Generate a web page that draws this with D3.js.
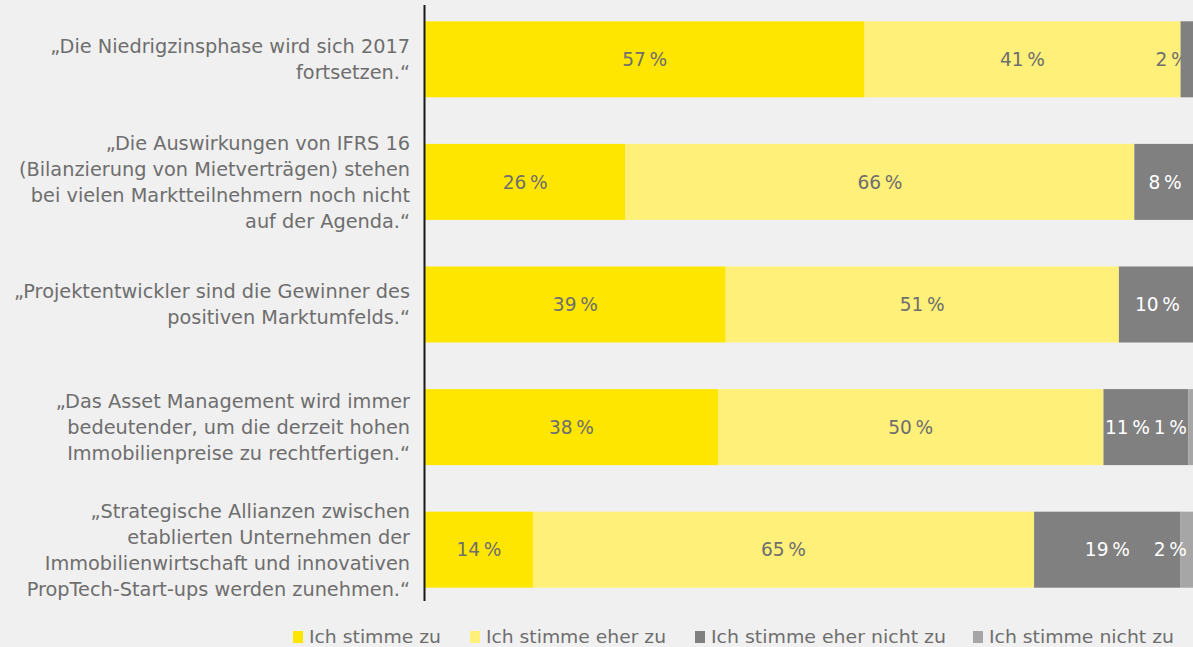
<!DOCTYPE html>
<html>
<head>
<meta charset="utf-8">
<script src="https://cdn.jsdelivr.net/npm/d3@7"></script>
<style>
  html, body { margin: 0; padding: 0; background: #f0f0f0; }
  svg { display: block; font-family: "DejaVu Sans", sans-serif; }
</style>
</head>
<body>
<svg id="chart" width="1193" height="647"></svg>
<script>
const categories = [
  ["„Die Niedrigzinsphase wird sich 2017", "fortsetzen.“"],
  ["„Die Auswirkungen von IFRS 16", "(Bilanzierung von Mietverträgen) stehen", "bei vielen Marktteilnehmern noch nicht", "auf der Agenda.“"],
  ["„Projektentwickler sind die Gewinner des", "positiven Marktumfelds.“"],
  ["„Das Asset Management wird immer", "bedeutender, um die derzeit hohen", "Immobilienpreise zu rechtfertigen.“"],
  ["„Strategische Allianzen zwischen", "etablierten Unternehmen der", "Immobilienwirtschaft und innovativen", "PropTech-Start-ups werden zunehmen.“"]
];
const seriesNames = ["Ich stimme zu", "Ich stimme eher zu", "Ich stimme eher nicht zu", "Ich stimme nicht zu"];
const stimmeZu      = [57, 26, 39, 38, 14];
const eherZu        = [41, 66, 51, 50, 65];
const eherNichtZu   = [2, 8, 10, 11, 19];
const nichtZu       = [0, 0, 0, 1, 2];
const colors = ["#ffe600", "#fff07a", "#808080", "#a6a6a6"];
const labelColors = ["#6e6e6e", "#6e6e6e", "#ffffff", "#ffffff"];
// legend layout (x of swatch, width of text)
const legendX = [293, 470, 695, 973];
const legendTextW = [132, 180, 235, 185];

const svg = d3.select("#chart");
const x = d3.scaleLinear().domain([0, 100]).range([425, 1196]);
const y = d3.scaleBand().domain(d3.range(categories.length)).range([-2, 611]).paddingInner(0.38).paddingOuter(0.19);

function fitSize(sample, target, base) {
  const t = svg.append("text").attr("font-size", base).text(sample);
  const w = t.node().getComputedTextLength();
  t.remove();
  return base * target / w;
}
const catSize = fitSize("„Die Niedrigzinsphase wird sich 2017", 360, 18);
const valSize = fitSize("57\u2009%", 45, 16);

const rows = categories.map((c, i) => [stimmeZu[i], eherZu[i], eherNichtZu[i], nichtZu[i]]);
const stackData = rows.map(r => { let acc = 0; return r.map((v, k) => { const s = {x0: acc, x1: acc + v, v, k}; acc += v; return s; }); });

stackData.forEach((segs, i) => {
  const row = svg.append("g");
  const rectNodes = [];
  segs.forEach(s => {
    if (s.v <= 0) { rectNodes.push(null); return; }
    rectNodes.push(row.append("rect")
      .attr("x", x(s.x0)).attr("y", y(i))
      .attr("width", x(s.x1) - x(s.x0)).attr("height", y.bandwidth())
      .attr("fill", colors[s.k]).node());
  });
  const labels = [];
  segs.forEach(s => {
    if (s.v <= 0) return;
    const t = row.append("text")
      .attr("y", y(i) + y.bandwidth() / 2)
      .attr("dy", "0.36em")
      .attr("text-anchor", "middle")
      .attr("font-size", valSize)
      .text(s.v + "\u2009%");
    const w = t.node().getComputedTextLength();
    let cx = (x(s.x0) + x(s.x1)) / 2;
    let col = labelColors[s.k];
    const maxC = 1187 - w / 2;
    let under = false;
    if (cx > maxC) {
      cx = maxC;
      if (cx < x(s.x0) && s.k > 0 && labelColors[s.k - 1] !== "#ffffff") {
        cx = x(s.x0) - w / 2 + 8;
        col = labelColors[s.k - 1];
        row.node().insertBefore(t.node(), rectNodes[s.k]);
        under = true;
      }
    }
    labels.push({t, w, cx, col, under});
  });
  // push labels left when they would collide
  for (let j = labels.length - 2; j >= 0; j--) {
    const a = labels[j], b = labels[j + 1];
    if (b.under) continue;
    const gap = (b.cx - b.w / 2) - (a.cx + a.w / 2);
    if (gap < 4) a.cx -= (4 - gap);
  }
  labels.forEach(l => l.t.attr("x", l.cx).attr("fill", l.col));
});

// axis line
svg.append("line").attr("x1", 424.5).attr("x2", 424.5).attr("y1", 5).attr("y2", 601)
  .attr("stroke", "#1a1a1a").attr("stroke-width", 2);

// category labels
categories.forEach((lines, i) => {
  const cy = y(i) + y.bandwidth() / 2;
  const lh = 26;
  const t = svg.append("text").attr("text-anchor", "end").attr("fill", "#6e6e6e").attr("font-size", catSize);
  lines.forEach((l, j) => {
    t.append("tspan").attr("x", 410).attr("y", cy + (j - (lines.length - 1) / 2) * lh).attr("dy", "0.36em").text(l);
  });
});

// legend
const leg = svg.append("g");
seriesNames.forEach((n, k) => {
  leg.append("rect").attr("x", legendX[k]).attr("y", 631).attr("width", 10).attr("height", 12).attr("fill", colors[k]);
  leg.append("text").attr("x", legendX[k] + 16).attr("y", 637).attr("dy", "0.36em")
    .attr("fill", "#6e6e6e").attr("font-size", 17)
    .attr("textLength", legendTextW[k]).attr("lengthAdjust", "spacingAndGlyphs").text(n);
});
</script>
</body>
</html>
